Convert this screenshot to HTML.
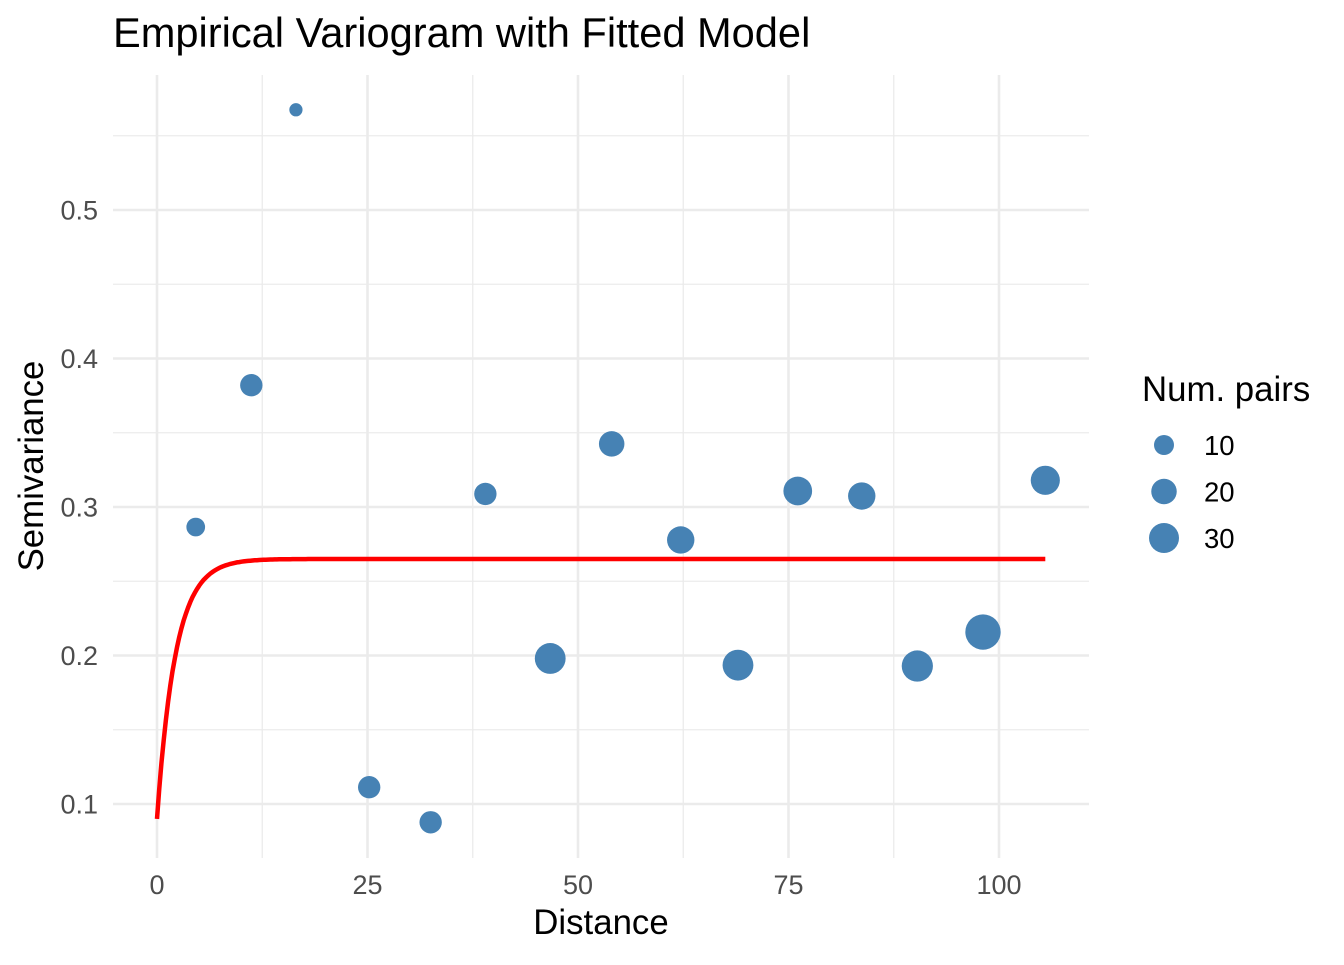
<!DOCTYPE html>
<html><head><meta charset="utf-8"><style>
body{margin:0;background:#fff;font-family:"Liberation Sans",sans-serif}
</style></head><body>
<svg id="c" width="1344" height="960" xmlns="http://www.w3.org/2000/svg">
<text x="113" y="47" font-size="41.6" fill="#000">Empirical Variogram with Fitted Model</text>
<g id="grid"></g><g id="marks"></g><g id="axes"></g>
<text x="601" y="934" font-size="34.8" text-anchor="middle">Distance</text>
<text transform="translate(43,466) rotate(-90)" font-size="34.8" text-anchor="middle">Semivariance</text>
<g id="legend"></g>
</svg>
<script>
const dist=[4.6,11.2,16.5,25.2,32.5,39.0,46.7,54.0,62.2,69.0,76.1,83.7,90.3,98.1,105.5];
const gamma=[0.2865,0.382,0.5675,0.1113,0.0877,0.3088,0.198,0.3425,0.2778,0.1935,0.3108,0.3074,0.1929,0.2158,0.318];
const npairs=[8,14,1,14,14,14,32,20,24,32,27,24,33,44,28];
const xTicks=[0,25,50,75,100];
const yTicks=[0.1,0.2,0.3,0.4,0.5];
const legendVals=[10,20,30];
const nugget=0.09, sill=0.265, rangeA=2.2, maxDist=105.5;
const NS="http://www.w3.org/2000/svg";
const X=v=>157+v*(999-157)/100;
const Y=v=>804-(v-0.1)*(804-210)/0.4;
const R=n=>Math.sqrt(37.5+6.25*n);
const L=113,Rt=1089,T=75,B=858;
function mk(p,tag,at){const e=document.createElementNS(NS,tag);for(const k in at)e.setAttribute(k,at[k]);document.getElementById(p).appendChild(e);return e;}
for(let v=0.15;v<=0.56;v+=0.1){const l=mk('grid','line',{x1:L,x2:Rt,y1:Y(v),y2:Y(v),stroke:'#ebebeb','stroke-width':1.3});

}
for(let v=-12.5;v<=112.5;v+=25){if(X(v)<L||X(v)>Rt)continue;const l=mk('grid','line',{x1:X(v),x2:X(v),y1:T,y2:B,stroke:'#ebebeb','stroke-width':1.3});

}
yTicks.forEach(v=>{const l=mk('grid','line',{x1:L,x2:Rt,y1:Y(v),y2:Y(v),stroke:'#ebebeb','stroke-width':2.6});


const t=mk('axes','text',{x:98,y:Y(v)+9.5,'font-size':27,fill:'#4d4d4d','text-anchor':'end'});t.textContent=v.toFixed(1);

});
xTicks.forEach(v=>{const l=mk('grid','line',{x1:X(v),x2:X(v),y1:T,y2:B,stroke:'#ebebeb','stroke-width':2.6});


const t=mk('axes','text',{x:X(v),y:894,'font-size':27,fill:'#4d4d4d','text-anchor':'middle'});t.textContent=v;

});
dist.forEach((d,i)=>{const c=mk('marks','circle',{cx:X(d),cy:Y(gamma[i]),r:R(npairs[i]),fill:'#4682B4'});

});
let pts=[];for(let i=0;i<=400;i++){const d=maxDist*i/400;pts.push(X(d).toFixed(1)+','+Y(nugget+(sill-nugget)*(1-Math.exp(-d/rangeA))).toFixed(1));}
const pl=mk('marks','polyline',{points:pts.join(' '),fill:'none',stroke:'#ff0000','stroke-width':4.5});


const lt=mk('legend','text',{x:1142,y:401,'font-size':34.8});lt.textContent='Num. pairs';


legendVals.forEach((n,i)=>{const y=445+i*46.5;
const c=mk('legend','circle',{cx:1164,cy:y,r:R(n),fill:'#4682B4'});


const t=mk('legend','text',{x:1204,y:y+10,'font-size':27.5});t.textContent=n;

});
</script>
</body></html>
